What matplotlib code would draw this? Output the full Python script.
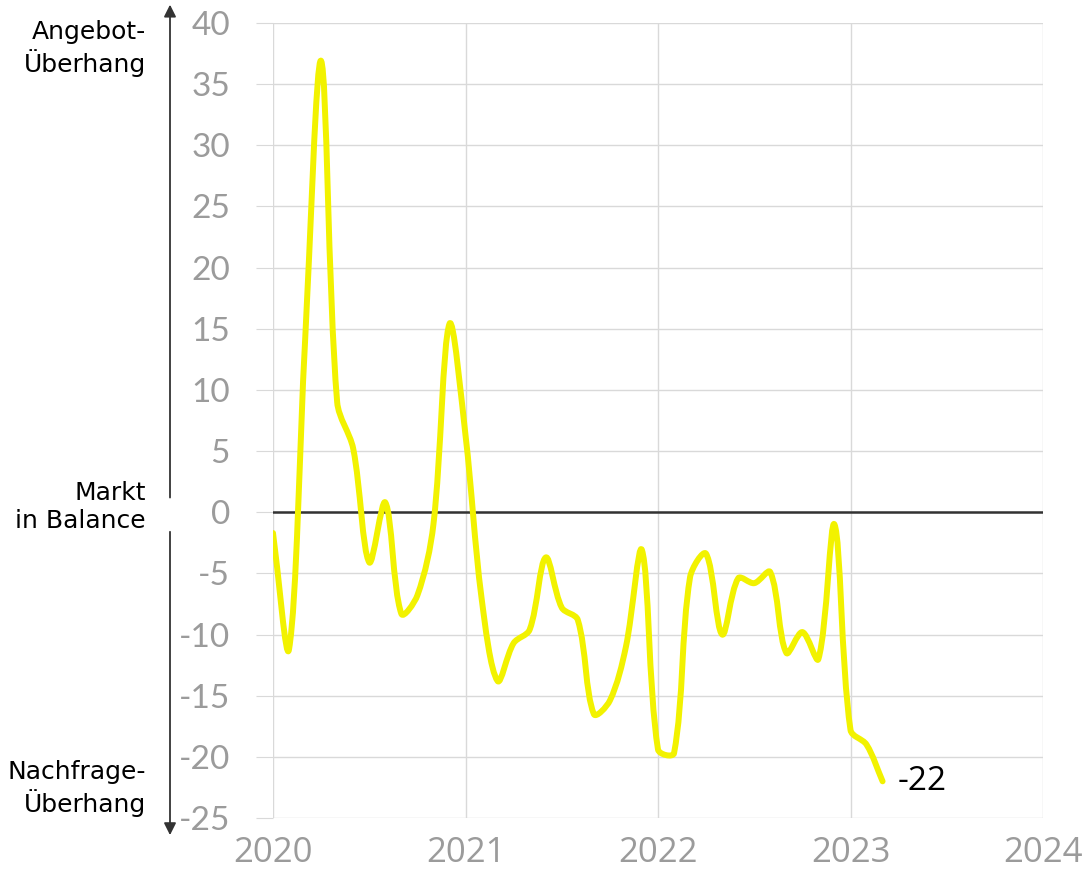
import numpy as np
import matplotlib.pyplot as plt
from matplotlib.path import Path
from matplotlib.patches import PathPatch
from matplotlib.transforms import blended_transform_factory

# monthly index, Jan 2020 .. Mar 2023
months = np.arange(39)
values = [
    -1.7, -11.2, 14.0, 36.9, 9.0, 5.2, -4.1, 0.8, -8.3, -6.8, -1.0, 15.4,   # 2020
    6.3, -7.0, -13.8, -10.7, -9.6, -3.7, -7.8, -8.8, -16.5, -15.4, -11.0, -3.1,  # 2021
    -19.4, -19.7, -5.3, -3.4, -10.0, -5.4, -5.8, -4.9, -11.5, -9.8, -12.0, -1.0,  # 2022
    -17.8, -19.0, -22.0,  # 2023
]
years = [2020, 2021, 2022, 2023, 2024]
yticks = list(range(-25, 45, 5))
last_label = "-22"

line_color = "#f2f200"
grid_color = "#d9d9d9"
tick_color = "#9b9b9b"

plt.rcParams['font.family'] = ['Lato', 'DejaVu Sans']
plt.rcParams['axes.unicode_minus'] = False

fig = plt.figure(figsize=(10.89, 8.72), dpi=100)
ax = fig.add_axes([273 / 1089, 1 - 818 / 872, (1043 - 273) / 1089, (818 - 23) / 872])
ax.set_xlim(2020, 2024)
ax.set_ylim(-25, 40)

x = 2020 + months / 12.0
y = np.array(values)

# smoothed line (spreadsheet style bezier, computed in screen space)
pts = ax.transData.transform(np.column_stack([x, y]))
n = len(pts)
verts = [pts[0]]
codes = [Path.MOVETO]
for i in range(n - 1):
    p0 = pts[max(i - 1, 0)]
    p1 = pts[i]
    p2 = pts[i + 1]
    p3 = pts[min(i + 2, n - 1)]
    l01 = np.hypot(*(p1 - p0))
    l12 = np.hypot(*(p2 - p1))
    l23 = np.hypot(*(p3 - p2))
    f1 = l12 / (l01 + l12) if l01 + l12 > 0 else 0
    f2 = l12 / (l12 + l23) if l12 + l23 > 0 else 0
    c1 = p1 + (p2 - p0) * f1 / 3.0
    c2 = p2 - (p3 - p1) * f2 / 3.0
    verts += [c1, c2, p2]
    codes += [Path.CURVE4] * 3
verts = ax.transData.inverted().transform(np.array(verts))
ax.add_patch(PathPatch(Path(verts, codes), facecolor='none', edgecolor=line_color,
                       lw=4.3, capstyle='round', joinstyle='round', zorder=4))

ax.axhline(0, color='#333333', lw=1.8, zorder=3)

ax.set_xticks(years)
ax.set_xticklabels([str(v) for v in years], family=['Open Sans', 'DejaVu Sans'])
ax.set_yticks(yticks)
ax.grid(True, color=grid_color, lw=1)
ax.set_axisbelow(True)
for s in ax.spines.values():
    s.set_visible(False)
ax.tick_params(axis='y', length=12, color=grid_color, pad=19, labelsize=24, labelcolor=tick_color)
ax.tick_params(axis='x', length=0, pad=13, labelsize=25, labelcolor=tick_color)

# end value label
ax.text(x[-1] + 0.08, y[-1], last_label, fontsize=24, family=['Open Sans', 'DejaVu Sans'],
        va='center', ha='left', color='black')

# side arrow and captions
trans = blended_transform_factory(fig.transFigure, ax.transData)
ax_x = 170 / 1089
arrow_kw = dict(arrowstyle='-|>', color='#333333', lw=1.3, mutation_scale=18, shrinkA=0, shrinkB=0)
ax.annotate('', xy=(ax_x, 41.5), xytext=(ax_x, 1.2), xycoords=trans, textcoords=trans,
            arrowprops=arrow_kw, annotation_clip=False)
ax.annotate('', xy=(ax_x, -26.4), xytext=(ax_x, -1.6), xycoords=trans, textcoords=trans,
            arrowprops=arrow_kw, annotation_clip=False)

tx = 146 / 1089
cap_kw = dict(transform=trans, ha='right', va='center', fontsize=18, linespacing=1.22,
              family=['DejaVu Sans'])
ax.text(tx, 37.9, "Angebot-\nÜberhang", **cap_kw)
ax.text(tx, 0.4, "Markt\nin Balance", **cap_kw)
ax.text(tx, -22.6, "Nachfrage-\nÜberhang", **cap_kw)

fig.savefig('out.png', dpi=100)
